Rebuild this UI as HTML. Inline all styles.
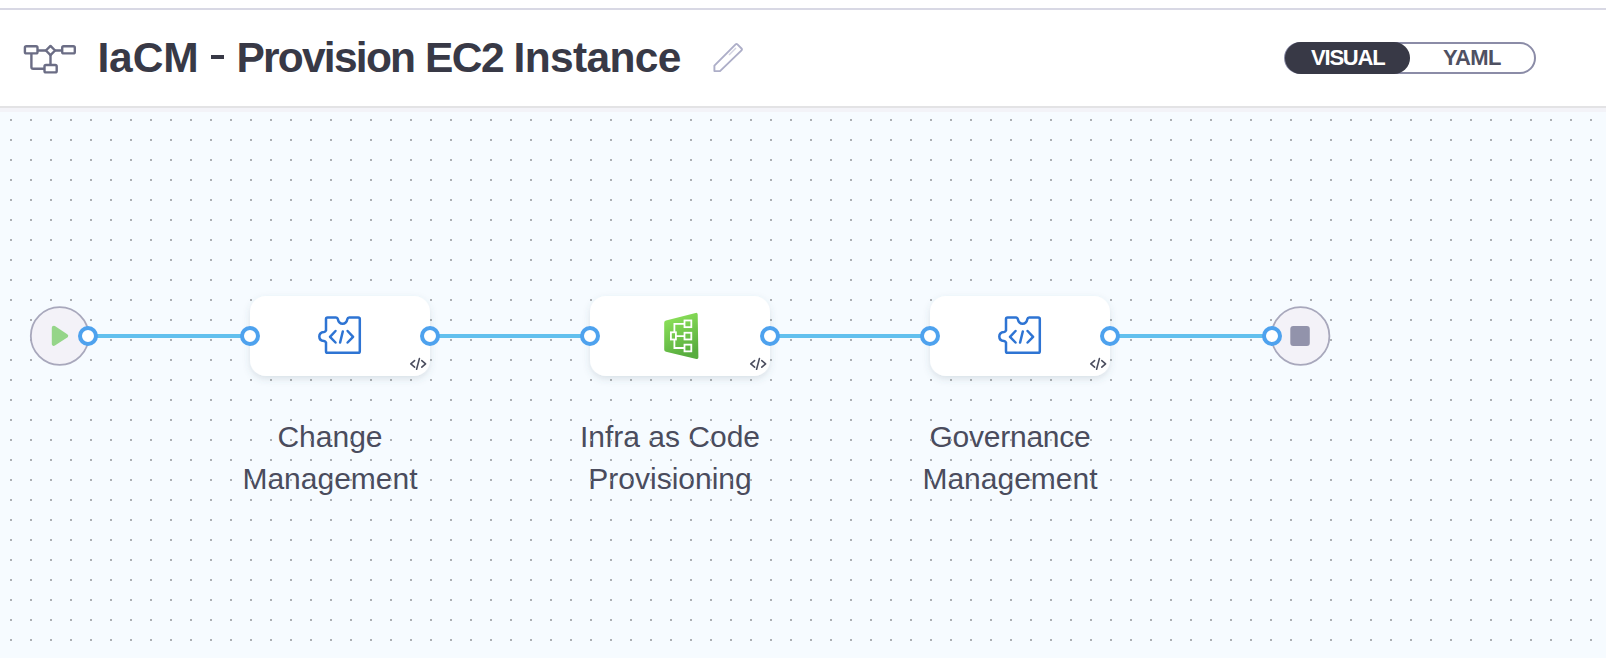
<!DOCTYPE html>
<html><head><meta charset="utf-8">
<style>
*{box-sizing:border-box;margin:0;padding:0}
html,body{width:1606px;height:658px;overflow:hidden;background:#fff;font-family:"Liberation Sans",sans-serif}
.abs{position:absolute}
#topline{position:absolute;left:0;top:8px;width:1606px;height:2px;background:#d8d8e4}
#hdrb1{position:absolute;left:0;top:106px;width:1606px;height:2px;background:#e3e3e5}
#hdrb2{position:absolute;left:0;top:108px;width:1606px;height:4px;background:#f3f3f8}
#canvas{position:absolute;left:0;top:112px;width:1606px;height:546px;background:#f6fbff}
#title{position:absolute;left:0;top:34px;font-size:42.5px;font-weight:bold;color:#383946;white-space:nowrap;line-height:48px}
#title span{position:absolute;top:0}
#hy{position:absolute;left:210.7px;top:21px;width:13.2px;height:4.3px;background:#383946}
#toggle{position:absolute;left:1284px;top:42px;width:252px;height:32px;border:2px solid #8b8ca7;border-radius:16px;background:#fff}
#vis{position:absolute;left:1284.5px;top:42px;width:125.5px;height:31.5px;border-radius:16px;background:#383946}
.tt{position:absolute;top:42px;height:32px;font-weight:bold;font-size:22px;line-height:32px;white-space:nowrap}
.lbl{position:absolute;width:240px;text-align:center;font-size:30px;line-height:42px;color:#4a4c5d}
svg{position:absolute;left:0;top:0}
</style></head><body>
<div id="topline"></div>
<svg width="90" height="90" style="left:0;top:0" viewBox="0 0 90 90">
 <g fill="none" stroke="#6b6d85" stroke-width="2.4" stroke-linejoin="round">
  <rect x="24.9" y="46.2" width="12.6" height="7.2" rx="1.5"/>
  <rect x="62.2" y="46.2" width="12.6" height="7.2" rx="1.5"/>
  <rect x="44.5" y="65" width="12.2" height="7.4" rx="1.5"/>
  <path d="M50.5 45.9 L55.1 50.5 L50.5 55.1 L45.9 50.5 Z"/>
  <path d="M37.5 50.5 H45.9 M55.1 50.5 H62.2 M50.5 55.1 V65 M31.4 53.4 V67 Q31.4 68.8 33.2 68.8 H44.5"/>
 </g>
</svg>
<div id="title"><span style="left:97.4px;letter-spacing:-0.1px">IaCM</span><i id="hy"></i><span style="left:236.4px;letter-spacing:-1.75px">Provision</span><span style="left:425px;letter-spacing:-1.5px">EC2</span><span style="left:513.6px;letter-spacing:-0.66px">Instance</span></div>
<svg width="60" height="60" style="left:700px;top:30px" viewBox="700 30 60 60">
 <g fill="none" stroke="#adaec8" stroke-width="1.9" stroke-linejoin="round">
  <path d="M714.4 71.1 V65.6 L735.6 44.4 Q736.5 43.5 737.4 44.4 L741.5 48.5 Q742.4 49.4 741.5 50.3 L720.0 71.1 Z"/>
  <path d="M729 55 L736 48" stroke="#d3d4e2" stroke-width="1.5"/>
 </g>
</svg>
<div id="toggle"></div><div id="vis"></div><div class="tt" style="left:1311px;color:#fff;letter-spacing:-1.2px">VISUAL</div><div class="tt" style="left:1443px;color:#4f5162;letter-spacing:-0.6px">YAML</div>
<div id="hdrb1"></div><div id="hdrb2"></div>
<div id="canvas"></div>

<div class="lbl" style="left:210px;top:415.5px">Change<br>Management</div>
<div class="lbl" style="left:550px;top:415.5px">Infra as Code<br>Provisioning</div>
<div class="lbl" style="left:890px;top:415.5px"><span style="letter-spacing:-0.25px">Governance</span><br>Management</div>

<svg width="1606" height="546" style="top:112px" shape-rendering="crispEdges">
 <defs><pattern id="dots" x="10" y="7" width="20" height="20" patternUnits="userSpaceOnUse"><rect width="2" height="2" fill="#acafb3"/></pattern></defs>
 <rect width="1606" height="546" fill="url(#dots)"/>
</svg>

<svg width="1606" height="658" viewBox="0 0 1606 658">
 <defs>
  <filter id="sh" x="-20%" y="-30%" width="140%" height="170%">
   <feDropShadow dx="0" dy="3" stdDeviation="3.6" flood-color="#50606e" flood-opacity="0.17"/>
  </filter>
  <linearGradient id="gg" x1="0" y1="0" x2="0.35" y2="1">
   <stop offset="0" stop-color="#93e85d"/><stop offset="1" stop-color="#58ad3f"/>
  </linearGradient>
 </defs>
 <!-- lines -->
 <g fill="#62c0ee">
  <rect x="88" y="334" width="162" height="4"/>
  <rect x="430" y="334" width="160" height="4"/>
  <rect x="770" y="334" width="160" height="4"/>
  <rect x="1110" y="334" width="162" height="4"/>
 </g>
 <!-- start / end -->
 <circle cx="59.7" cy="336" r="28.9" fill="#f3f2f8" stroke="#a8a8bc" stroke-width="1.8"/>
 <path d="M53.8 327.7 L66.2 335.8 L53.8 343.9 Z" fill="#95d589" stroke="#95d589" stroke-width="4" stroke-linejoin="round"/>
 <circle cx="1300.5" cy="336" r="28.9" fill="#f3f2f8" stroke="#a8a8bc" stroke-width="1.8"/>
 <rect x="1290.3" y="326" width="19.5" height="20" rx="3" fill="#9293ab"/>
 <!-- cards -->
 <g filter="url(#sh)" fill="#fff">
  <rect x="250" y="296" width="180" height="80" rx="16"/>
  <rect x="590" y="296" width="180" height="80" rx="16"/>
  <rect x="930" y="296" width="180" height="80" rx="16"/>
 </g>
 <!-- puzzle icons -->
 <g id="pz" fill="none" stroke="#2e74d3" stroke-width="2.5" stroke-linecap="round" stroke-linejoin="round">
  <path d="M326 330.5 V319 Q326 317.4 327.6 317.4 H336 Q337.5 317.4 337.8 319 Q338.8 323.8 342.6 323.8 Q346.4 323.8 347.4 319 Q347.7 317.4 349.2 317.4 H358.2 Q359.8 317.4 359.8 319 V351.2 Q359.8 352.8 358.2 352.8 H327.6 Q326 352.8 326 351.2 V342.6 Q325.4 341.3 324 341.1 Q319.3 340.7 319.3 336.5 Q319.3 332.2 324 331.9 Q325.4 331.7 326 330.5 Z"/>
  <path d="M335.5 331 L330 336.8 L335.5 342.5 M347.6 331 L353.1 336.8 L347.6 342.5 M342.8 331.5 L340.1 342.5"/>
 </g>
 <use href="#pz" x="680"/>
 <!-- small code icons -->
 <g id="sc" fill="none" stroke="#4b4e5f" stroke-width="1.6" stroke-linecap="round" stroke-linejoin="round">
  <path d="M414.6 360.6 L410.8 363.9 L414.6 367.2 M421.8 360.6 L425.6 363.9 L421.8 367.2 M419.4 358.6 L416.6 369.3"/>
 </g>
 <use href="#sc" x="340"/>
 <use href="#sc" x="680"/>
 <!-- IaC icon -->
 <path d="M664.2 322.8 Q664.2 321 666 320.6 L695.6 312.9 Q697.6 312.5 697.7 314.5 L698.4 357.3 Q698.4 359.4 696.4 358.9 L666 351.8 Q664.2 351.4 664.2 349.6 Z" fill="url(#gg)"/>
 <g fill="none" stroke="#fff" stroke-width="1.8">
  <rect x="670.9" y="332.3" width="5" height="7.2"/>
  <rect x="684.5" y="320.45" width="6.8" height="6.7"/>
  <rect x="684.5" y="332.75" width="6.8" height="6.7"/>
  <rect x="684.5" y="344.65" width="6.8" height="6.7"/>
  <path d="M684.5 323.8 H674.4 V332.35 M674.4 339.45 V348 H684.5 M675.9 336.1 H684.5"/>
 </g>
 <!-- ports -->
 <g fill="#fff" stroke="#4ea2ee" stroke-width="4">
  <circle cx="88" cy="336" r="8"/>
  <circle cx="250" cy="336" r="8"/>
  <circle cx="430" cy="336" r="8"/>
  <circle cx="590" cy="336" r="8"/>
  <circle cx="770" cy="336" r="8"/>
  <circle cx="930" cy="336" r="8"/>
  <circle cx="1110" cy="336" r="8"/>
  <circle cx="1272" cy="336" r="8"/>
 </g>
</svg>
</body></html>
